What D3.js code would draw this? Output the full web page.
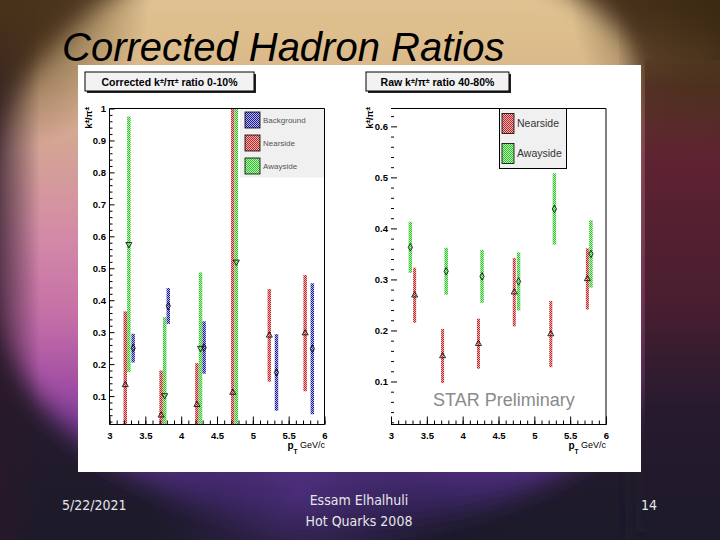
<!DOCTYPE html>
<html><head><meta charset="utf-8">
<script src="https://cdn.jsdelivr.net/npm/d3@7"></script>
<style>html,body{margin:0;padding:0;background:#1c1a2a;}svg{display:block;}</style>
</head><body>
<script>
// ---------- data ----------
const slideTitle = "Corrected Hadron Ratios";
const footerDate = "5/22/2021";
const footerAuthor = ["Essam Elhalhuli", "Hot Quarks 2008"];
const footerPage = "14";

// left panel: corrected ratio 0-10%
const leftNearX = [3.22, 3.72, 4.22, 4.72, 5.23, 5.73];
const leftNearY = [0.135, 0.04, 0.073, 0.111, 0.29, 0.297];
const leftNearErr = [0.23, 0.14, 0.13, 1.0, 0.145, 0.182];
const leftAwayX = [3.27, 3.77, 4.27, 4.77];
const leftAwayY = [0.575, 0.102, 0.25, 0.52];
const leftAwayErr = [0.40, 0.245, 0.237, 0.6];
const leftBkgX = [3.33, 3.82, 4.32, 5.33, 5.83];
const leftBkgY = [0.25, 0.382, 0.252, 0.174, 0.248];
const leftBkgErr = [0.045, 0.056, 0.082, 0.12, 0.205];

// right panel: raw ratio 40-80%
const rightNearX = [3.33, 3.72, 4.22, 4.72, 5.23, 5.74];
const rightNearY = [0.269, 0.150, 0.174, 0.275, 0.193, 0.301];
const rightNearErr = [0.054, 0.053, 0.049, 0.067, 0.065, 0.06];
const rightAwayX = [3.27, 3.77, 4.27, 4.78, 5.28, 5.79];
const rightAwayY = [0.363, 0.316, 0.306, 0.296, 0.438, 0.35];
const rightAwayErr = [0.05, 0.046, 0.052, 0.057, 0.07, 0.066];

const xMajorTicks = [3, 3.5, 4, 4.5, 5, 5.5, 6];
const leftYTicks = [0.1, 0.2, 0.3, 0.4, 0.5, 0.6, 0.7, 0.8, 0.9, 1];
const rightYTicks = [0.1, 0.2, 0.3, 0.4, 0.5, 0.6];
const leftLegend = ["Background", "Nearside", "Awayside"];
const rightLegend = ["Nearside", "Awayside"];

// ---------- drawing ----------
const W = 720, H = 540;
const svg = d3.select("body").append("svg").attr("width", W).attr("height", H);
const defs = svg.append("defs");

function radial(id, cx, cy, r, stops) {
  const g = defs.append("radialGradient").attr("id", id).attr("gradientUnits", "userSpaceOnUse")
    .attr("cx", cx).attr("cy", cy).attr("r", r);
  stops.forEach(s => g.append("stop").attr("offset", s[0]).attr("stop-color", s[1]).attr("stop-opacity", s[2]));
}
function linear(id, x1, y1, x2, y2, stops) {
  const g = defs.append("linearGradient").attr("id", id).attr("gradientUnits", "userSpaceOnUse")
    .attr("x1", x1).attr("y1", y1).attr("x2", x2).attr("y2", y2);
  stops.forEach(s => g.append("stop").attr("offset", s[0]).attr("stop-color", s[1]).attr("stop-opacity", s[2] == null ? 1 : s[2]));
}
linear("bgV", 0, 0, 0, 540, [[0, "#4a3420"], [0.3, "#3c2428"], [0.6, "#2a1c2e"], [1, "#1c1a2a"]]);
linear("ellG", 0, -70, 0, 530, [[0, "#e4cc9c"], [0.2, "#dcbc8a"], [0.36, "#d4a494"], [0.5, "#d48ca6"],
  [0.64, "#c670a8"], [0.76, "#a24ea4"], [0.85, "#66348e"], [0.93, "#3e286a"], [1, "#221c3a"]]);
linear("rightStrip", 0, 0, 0, 540, [[0, "#4a3420"], [0.1, "#6a4c30"], [0.16, "#5a3428"], [0.3, "#5e2232"],
  [0.55, "#4a1e30"], [0.75, "#281a2e"], [1, "#1c1a2a"]]);
linear("leftEdge", 0, 0, 40, 0, [[0, "#2a1828", 0.7], [1, "#2a1828", 0]]);
radial("brownTL", 0, 0, 150, [[0, "#4a3418", 0.95], [1, "#4a3418", 0]]);
radial("brownTR", 720, 0, 150, [[0, "#3a2810", 0.95], [1, "#3a2810", 0]]);
radial("purpB", 300, 490, 160, [[0, "#503080", 0.7], [1, "#302050", 0]]);

const blur = defs.append("filter").attr("id", "blur").attr("x", "-20%").attr("y", "-20%").attr("width", "140%").attr("height", "140%");
blur.append("feGaussianBlur").attr("stdDeviation", 12);

svg.append("rect").attr("width", W).attr("height", H).attr("fill", "url(#bgV)");
svg.append("ellipse").attr("cx", 345).attr("cy", 230).attr("rx", 372).attr("ry", 300)
  .attr("fill", "url(#ellG)").attr("filter", "url(#blur)");
svg.append("rect").attr("width", W).attr("height", H).attr("fill", "url(#purpB)");
svg.append("rect").attr("width", 60).attr("height", H).attr("fill", "url(#leftEdge)");
svg.append("rect").attr("x", 636).attr("width", 84).attr("height", H).attr("fill", "url(#rightStrip)").attr("filter", "url(#blur)");
svg.append("rect").attr("x", 645).attr("y", 60).attr("width", 75).attr("height", 480).attr("fill", "url(#rightStrip)");
svg.append("rect").attr("width", W).attr("height", H).attr("fill", "url(#brownTL)");
svg.append("rect").attr("width", W).attr("height", H).attr("fill", "url(#brownTR)");

// hatch patterns
function hatch(id, c1, c2) {
  const p = defs.append("pattern").attr("id", id).attr("width", 2).attr("height", 2).attr("patternUnits", "userSpaceOnUse");
  p.append("rect").attr("width", 2).attr("height", 2).attr("fill", c2);
  p.append("rect").attr("width", 1).attr("height", 1).attr("fill", c1);
  p.append("rect").attr("x", 1).attr("y", 1).attr("width", 1).attr("height", 1).attr("fill", c1);
}
hatch("hRed", "#b82828", "#eeb0b0");
hatch("hGreen", "#30c030", "#b8f0b0");
hatch("hBlue", "#1c1c90", "#b8b8e8");

// slide title
svg.append("text").attr("x", 62).attr("y", 61).attr("font-family", "Liberation Sans, Arial, sans-serif")
  .attr("font-style", "italic").attr("font-size", 40).attr("fill", "#000").text(slideTitle);

// white picture area
svg.append("rect").attr("x", 78).attr("y", 65).attr("width", 563).attr("height", 407).attr("fill", "#fff");

// footer
const ff = "DejaVu Sans Condensed, Liberation Sans Narrow, sans-serif";
svg.append("text").attr("x", 62).attr("y", 510).attr("font-family", ff).attr("font-size", 14)
  .attr("fill", "#e6e6ea").text(footerDate);
footerAuthor.forEach((t, i) => svg.append("text").attr("x", 359).attr("y", 505 + i * 21)
  .attr("text-anchor", "middle").attr("font-family", ff).attr("font-size", 14).attr("fill", "#e6e6ea").text(t));
svg.append("text").attr("x", 657).attr("y", 510).attr("text-anchor", "end").attr("font-family", ff)
  .attr("font-size", 14).attr("fill", "#e6e6ea").text(footerPage);

const af = "Liberation Sans, Arial, Helvetica, sans-serif";
const xMinor = d3.range(30, 61).map(d => d / 10);

function titleBox(x, y, w, h, parts) {
  svg.append("rect").attr("x", x + 2).attr("y", y + 2).attr("width", w).attr("height", h).attr("fill", "#222");
  svg.append("rect").attr("x", x).attr("y", y).attr("width", w).attr("height", h)
    .attr("fill", "#f2f2f2").attr("stroke", "#000").attr("stroke-width", 1);
  const t = svg.append("text").attr("x", x + w / 2).attr("y", y + h / 2 + 4).attr("text-anchor", "middle")
    .attr("font-family", af).attr("font-weight", "bold").attr("font-size", 10.5).attr("fill", "#000");
  parts.forEach(p => {
    const ts = t.append("tspan").text(p[0]);
    if (p[1]) ts.attr("font-size", 7).attr("baseline-shift", "super");
  });
}

function ratioLabel(x, y) {
  const t = svg.append("text").attr("transform", `translate(${x},${y}) rotate(-90)`).attr("text-anchor", "end")
    .attr("font-family", af).attr("font-weight", "bold").attr("font-size", 9).attr("fill", "#000");
  t.append("tspan").text("k");
  t.append("tspan").text("±").attr("font-size", 6.5).attr("baseline-shift", "super");
  t.append("tspan").text("/π");
  t.append("tspan").text("±").attr("font-size", 6.5).attr("baseline-shift", "super");
}

function ptLabel(xEnd, y) {
  const t = svg.append("text").attr("x", xEnd).attr("y", y).attr("text-anchor", "end")
    .attr("font-family", af).attr("font-size", 9).attr("fill", "#000");
  t.append("tspan").text("p").attr("font-weight", "bold").attr("font-size", 10).attr("dy", 1.5);
  t.append("tspan").text("T").attr("font-weight", "bold").attr("font-size", 6.5).attr("dy", 5);
  t.append("tspan").text(" GeV/c").attr("dy", -6.5);
}

function styleAxis(g) {
  g.selectAll("text").attr("font-family", af).attr("font-weight", "bold").attr("font-size", 9.5).attr("fill", "#000");
  g.selectAll("line").attr("stroke", "#000");
}

function panel(opt) {
  const { x, y, yTicks, yMinor, idc, series, leftLine } = opt;
  const r = x.range(), d = y.range();
  const g = svg.append("g");
  g.append("clipPath").attr("id", idc).append("rect")
    .attr("x", r[0]).attr("y", d[1]).attr("width", r[1] - r[0]).attr("height", d[0] - d[1]);
  const lgd = opt.legend;
  g.append("rect").attr("x", lgd.x).attr("y", lgd.y).attr("width", lgd.w).attr("height", lgd.h)
    .attr("fill", "#f0f0f0").attr("stroke", lgd.border ? "#000" : "none").attr("stroke-width", 1);
  lgd.items.forEach((name, i) => {
    const s = series.find(z => z.name === name);
    const yy = lgd.y + lgd.y0 + i * lgd.step;
    g.append("rect").attr("x", lgd.x + lgd.sx).attr("y", yy).attr("width", lgd.sw).attr("height", lgd.sh)
      .attr("fill", `url(#${s.fill})`).attr("stroke", "#000").attr("stroke-width", 0.8);
    g.append("text").attr("x", lgd.x + lgd.sx + lgd.sw + 3).attr("y", yy + lgd.sh / 2 + lgd.fs * 0.36)
      .attr("font-family", af).attr("font-size", lgd.fs).attr("fill", lgd.color).text(name);
  });
  const dg = g.append("g").attr("clip-path", `url(#${idc})`);
  series.forEach(s => {
    const data = s.xs.map((v, i) => ({ x: v, y: s.ys[i], e: s.es[i] }));
    dg.selectAll(null).data(data).enter().append("rect")
      .attr("x", dd => x(dd.x) - s.w / 2).attr("width", s.w)
      .attr("y", dd => y(dd.y + dd.e)).attr("height", dd => y(dd.y - dd.e) - y(dd.y + dd.e))
      .attr("fill", `url(#${s.fill})`);
  });
  series.forEach(s => {
    const data = s.xs.map((v, i) => ({ x: v, y: s.ys[i] }));
    dg.selectAll(null).data(data).enter().append("path")
      .attr("d", d3.symbol().type(s.sym).size(16))
      .attr("transform", dd => `translate(${x(dd.x)},${y(dd.y)}) rotate(${s.rot || 0})`)
      .attr("fill", "none").attr("stroke", "#000").attr("stroke-width", 0.8);
  });
  const fr = g.append("path").attr("fill", "none").attr("stroke", "#000").attr("stroke-width", 1);
  if (leftLine) fr.attr("d", `M${r[0]},${d[1]}H${r[1]}V${d[0]}H${r[0]}Z`);
  else fr.attr("d", `M${r[0]},${d[1]}H${r[1]}V${d[0]}H${r[0]}`);
  const xa = g.append("g").attr("transform", `translate(0,${d[0]})`)
    .call(d3.axisBottom(x).tickValues(xMajorTicks).tickSize(-8).tickPadding(8).tickFormat(d3.format("~g")));
  xa.select(".domain").remove(); styleAxis(xa);
  const xm = g.append("g").attr("transform", `translate(0,${d[0]})`)
    .call(d3.axisBottom(x).tickValues(xMinor).tickSize(-4).tickFormat(""));
  xm.select(".domain").remove(); styleAxis(xm);
  const ya = g.append("g").attr("transform", `translate(${r[0]},0)`)
    .call(d3.axisLeft(y).tickValues(yTicks).tickSize(-opt.yMajorLen).tickPadding(opt.yPad).tickFormat(d3.format("~g")));
  ya.select(".domain").remove(); styleAxis(ya);
  const ym = g.append("g").attr("transform", `translate(${r[0]},0)`)
    .call(d3.axisLeft(y).tickValues(yMinor).tickSize(-3).tickFormat(""));
  ym.select(".domain").remove(); styleAxis(ym);
}

// left panel
titleBox(85, 72, 169, 19, [["Corrected k"], ["±", 1], ["/π"], ["±", 1], [" ratio 0-10%"]]);
const xL = d3.scaleLinear().domain([3, 6]).range([109.5, 324.5]);
const yL = d3.scaleLinear().domain([0.011, 1.0]).range([424.5, 108.5]);
panel({
  x: xL, y: yL, idc: "clipL", leftLine: true, yMajorLen: 5, yPad: 3.5,
  yTicks: leftYTicks, yMinor: d3.range(1, 50).map(d => d / 50).filter(v => Math.round(v * 50) % 5 !== 0),
  series: [
    { name: "Nearside", xs: leftNearX, ys: leftNearY, es: leftNearErr, fill: "hRed", w: 3.5, sym: d3.symbolTriangle },
    { name: "Awayside", xs: leftAwayX, ys: leftAwayY, es: leftAwayErr, fill: "hGreen", w: 3.5, sym: d3.symbolTriangle, rot: 180 },
    { name: "Background", xs: leftBkgX, ys: leftBkgY, es: leftBkgErr, fill: "hBlue", w: 3.5, sym: d3.symbolDiamond }
  ],
  legend: { x: 240, y: 108.5, w: 84.5, h: 69, items: leftLegend, y0: 3.5, step: 23, sx: 5, sw: 15, sh: 16, fs: 8, border: false, color: "#555" }
});
ratioLabel(92, 107);
ptLabel(325, 447.5);

// right panel
titleBox(366, 72, 143, 19, [["Raw k"], ["±", 1], ["/π"], ["±", 1], [" ratio 40-80%"]]);
const xR = d3.scaleLinear().domain([3, 6]).range([391, 606]);
const yR = d3.scaleLinear().domain([0.0157, 0.635]).range([424.5, 108.5]);
panel({
  x: xR, y: yR, idc: "clipR", leftLine: false, yMajorLen: 6, yPad: 3,
  yTicks: rightYTicks, yMinor: d3.range(1, 32).map(d => d / 50).filter(v => Math.round(v * 50) % 5 !== 0),
  series: [
    { name: "Nearside", xs: rightNearX, ys: rightNearY, es: rightNearErr, fill: "hRed", w: 3, sym: d3.symbolTriangle },
    { name: "Awayside", xs: rightAwayX, ys: rightAwayY, es: rightAwayErr, fill: "hGreen", w: 3.5, sym: d3.symbolDiamond }
  ],
  legend: { x: 499.5, y: 108.5, w: 67, h: 60, items: rightLegend, y0: 5, step: 30, sx: 2.5, sw: 12, sh: 20, fs: 10.5, border: true, color: "#333" }
});
ratioLabel(373, 107);
ptLabel(606, 447.5);

svg.append("text").attr("x", 433).attr("y", 406).attr("font-family", af).attr("font-size", 18)
  .attr("fill", "#8a8a8a").text("STAR Preliminary");
</script>
</body></html>
